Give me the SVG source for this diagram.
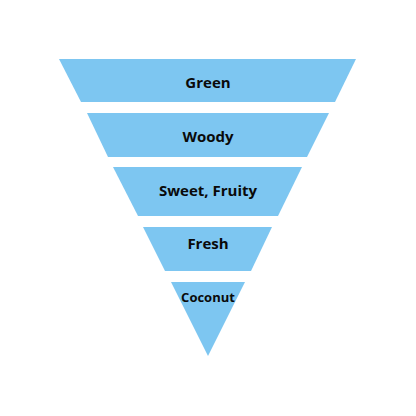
<svg xmlns="http://www.w3.org/2000/svg" width="416" height="416" viewBox="0 0 416 416">
<style>
.band{fill:#7DC6F1;}
.lbl{font-family:"Open Sans","Liberation Sans",sans-serif;font-weight:bold;font-size:15px;fill:#0a0a0a;text-anchor:middle;}
.sm{font-size:13px;}
</style>
<rect width="416" height="416" fill="#fff"/>
<g id="green"><polygon class="band" points="59,59 356,59 335,102 81,102"/><text class="lbl" x="208" y="88">Green</text></g>
<g id="woody"><polygon class="band" points="87,113 329,113 307,157 108,157"/><text class="lbl" x="208" y="142">Woody</text></g>
<g id="sweet"><polygon class="band" points="113,167 302,167 278,216 138,216"/><text class="lbl" x="208" y="196">Sweet, Fruity</text></g>
<g id="fresh"><polygon class="band" points="143,227 272,227 251,271 165,271"/><text class="lbl" x="208" y="249">Fresh</text></g>
<g id="coconut"><polygon class="band" points="171,282 245,282 208,356"/><text class="lbl sm" x="208" y="301.5">Coconut</text></g>
<g id="connectors"/>
</svg>
